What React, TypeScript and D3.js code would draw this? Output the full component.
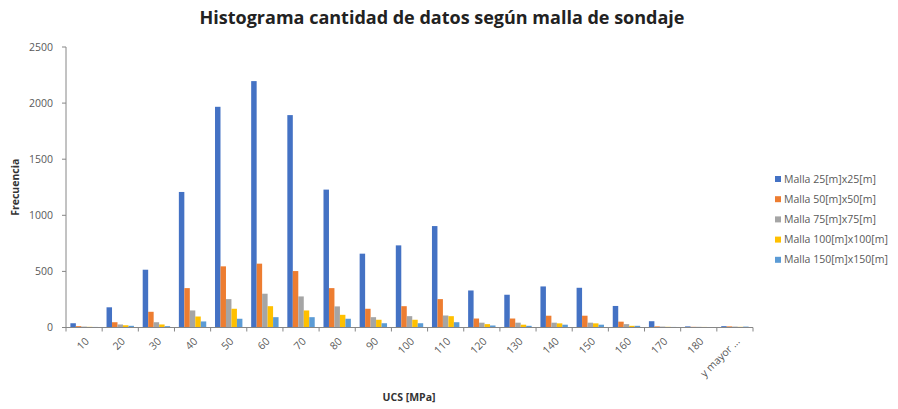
import React from "react";
import * as d3 from "d3";

const categories = ["10","20","30","40","50","60","70","80","90","100","110","120","130","140","150","160","170","180","y mayor ..."];
const seriesNames = ["Malla 25[m]x25[m]","Malla 50[m]x50[m]","Malla 75[m]x75[m]","Malla 100[m]x100[m]","Malla 150[m]x150[m]"];
const malla25 = [38,180,515,1208,1967,2196,1893,1229,658,732,904,330,292,366,354,192,56,10,12];
const malla50 = [12,47,140,351,545,569,503,351,167,190,253,80,80,105,105,52,10,6,10];
const malla75 = [8,27,47,152,253,301,277,188,92,101,107,43,43,43,43,30,8,6,8];
const malla100 = [6,20,27,98,167,190,152,113,69,69,101,30,25,37,37,15,6,5,6];
const malla150 = [5,15,12,54,78,92,92,78,38,38,47,18,15,25,25,15,5,4,8];
const yTicks = [0,500,1000,1500,2000,2500];
const colors = ["#4472C4","#ED7D31","#A5A5A5","#FFC000","#5B9BD5"];

const series = [malla25, malla50, malla75, malla100, malla150];

export default function App() {
  const W = 898, H = 409;
  const left = 66, right = 753, top = 47, bottom = 327.5;
  const x = d3.scaleBand<string>().domain(categories).range([left, right]).paddingInner(0).paddingOuter(0);
  const inner = d3.scaleBand<number>().domain(d3.range(5)).range([0, x.bandwidth()]).paddingInner(0).paddingOuter(0.8);
  const y = d3.scaleLinear().domain([0, 2500]).range([bottom, top]);
  const font = "'Open Sans', 'Liberation Sans', sans-serif";
  const axisColor = "#868686";
  const textColor = "#595959";
  return (
    <svg width={W} height={H} style={{ position: "absolute", left: 0, top: 0, background: "#fff" }} fontFamily={font}>
      <text x={442} y={24} textAnchor="middle" fontSize={18} fontWeight="bold" fill="#222">Histograma cantidad de datos según malla de sondaje</text>
      {/* y axis */}
      <line x1={left} x2={left} y1={top} y2={bottom} stroke={axisColor} />
      {yTicks.map((t) => (
        <g key={t}>
          <line x1={left - 4} x2={left} y1={y(t)} y2={y(t)} stroke={axisColor} />
          <text x={left - 13} y={y(t)} dy="0.35em" textAnchor="end" fontSize={10.5} fill={textColor}>{t}</text>
        </g>
      ))}
      <text transform={`translate(19,${(top + bottom) / 2}) rotate(-90)`} textAnchor="middle" fontSize={10.5} fontWeight="bold" fill="#333">Frecuencia</text>
      {/* bars */}
      {series.map((s, si) => (
        <g key={si} fill={colors[si]}>
          {s.map((v, ci) => (
            <rect key={ci} x={(x(categories[ci]) as number) + (inner(si) as number)} y={y(v)} width={inner.bandwidth()} height={bottom - y(v)} />
          ))}
        </g>
      ))}
      {/* x axis */}
      <line x1={left} x2={right} y1={bottom} y2={bottom} stroke={axisColor} />
      {categories.map((c, i) => (
        <line key={"t" + i} x1={(x(c) as number) + x.bandwidth()} x2={(x(c) as number) + x.bandwidth()} y1={bottom} y2={bottom + 4} stroke={axisColor} />
      ))}
      <line x1={left} x2={left} y1={bottom} y2={bottom + 4} stroke={axisColor} />
      {categories.map((c, i) => {
        const cx = (x(c) as number) + x.bandwidth() / 2;
        return (
          <text key={"l" + i} transform={`translate(${cx + 3},${bottom + 12}) rotate(-45)`} textAnchor="end" dy="0.35em" fontSize={10.5} fill={textColor}>{c}</text>
        );
      })}
      <text x={409} y={401} textAnchor="middle" fontSize={10.5} fontWeight="bold" fill="#333">UCS [MPa]</text>
      {/* legend */}
      {seriesNames.map((n, i) => (
        <g key={n} transform={`translate(775,${179 + i * 20.2})`}>
          <rect x={0} y={-3} width={6} height={6} fill={colors[i]} />
          <text x={9} y={0} dy="0.35em" fontSize={10.5} fill={textColor}>{n}</text>
        </g>
      ))}
    </svg>
  );
}
